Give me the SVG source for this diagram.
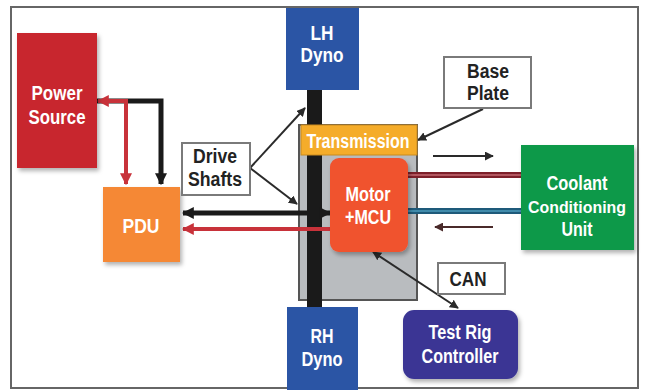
<svg xmlns="http://www.w3.org/2000/svg" width="645" height="390" viewBox="0 0 645 390">
<style>
.t{font-family:"Liberation Sans Narrow","Liberation Sans",Arial,sans-serif;font-weight:bold;font-size:20px;text-anchor:middle;fill:#ffffff}
.d{fill:#222222}
.lbl{fill:#ffffff;stroke:#7a7a7a;stroke-width:2}
.thin{fill:none;stroke:#2a2a2a;stroke-width:2}
.thickB{fill:none;stroke:#1a1a1a;stroke-width:5}
.thickR{fill:none;stroke:#c8323a;stroke-width:4}
</style>
<defs>
<filter id="sh" x="-10%" y="-10%" width="130%" height="130%">
<feDropShadow dx="2" dy="3" stdDeviation="2" flood-color="#000" flood-opacity="0.3"/>
</filter>
<marker id="aB" viewBox="0 0 10 10" refX="9" refY="5" markerWidth="12" markerHeight="12" markerUnits="userSpaceOnUse" orient="auto-start-reverse"><path d="M0,0 L10,5 L0,10 z" fill="#1a1a1a"/></marker>
<marker id="aR" viewBox="0 0 10 10" refX="9" refY="5" markerWidth="12" markerHeight="12" markerUnits="userSpaceOnUse" orient="auto-start-reverse"><path d="M0,0 L10,5 L0,10 z" fill="#c8323a"/></marker>
<marker id="aT" viewBox="0 0 10 10" refX="9" refY="5" markerWidth="9" markerHeight="9" markerUnits="userSpaceOnUse" orient="auto-start-reverse"><path d="M0,0 L10,5 L0,10 z" fill="#2a2a2a"/></marker>
<marker id="aBr" viewBox="0 0 10 10" refX="9" refY="5" markerWidth="9" markerHeight="9" markerUnits="userSpaceOnUse" orient="auto-start-reverse"><path d="M0,0 L10,5 L0,10 z" fill="#4a2a2a"/></marker>
</defs>
<rect x="11" y="7" width="627" height="381" fill="#ffffff" stroke="#666666" stroke-width="2"/>

<g id="base-plate">
<rect x="299" y="125" width="118" height="175" fill="#b9bcbf" stroke="#555555" stroke-width="2"/>
</g>

<g id="shaft">
<rect x="307" y="88" width="15" height="220" fill="#1a1a1a"/>
</g>

<g id="connectors">
<path class="thickB" d="M97,101 H161 V184" marker-end="url(#aB)"/>
<path class="thickR" d="M126,184 V101 H98" marker-start="url(#aR)" marker-end="url(#aR)"/>
<path class="thickB" d="M183,213 H330" marker-start="url(#aB)" marker-end="url(#aB)"/>
<path class="thickR" d="M330,229 H183" marker-end="url(#aR)"/>
<line x1="408" y1="175" x2="523" y2="175" stroke="#7d1f2a" stroke-width="6"/>
<line x1="408" y1="175" x2="523" y2="175" stroke="#c46a72" stroke-width="1.5"/>
<line x1="408" y1="211" x2="523" y2="211" stroke="#1e5a7a" stroke-width="6"/>
<line x1="408" y1="211" x2="523" y2="211" stroke="#4d9cbd" stroke-width="1.5"/>
<line class="thin" x1="433" y1="156" x2="493" y2="156" marker-end="url(#aT)"/>
<line x1="493" y1="227" x2="435" y2="227" stroke="#4a2a2a" stroke-width="2" marker-end="url(#aBr)"/>
<line class="thin" x1="250" y1="168" x2="305" y2="108" marker-end="url(#aT)"/>
<line class="thin" x1="250" y1="168" x2="297" y2="204" marker-end="url(#aT)"/>
<line class="thin" x1="483" y1="109" x2="418" y2="140" marker-end="url(#aT)"/>
<line class="thin" x1="373" y1="252" x2="458" y2="308" marker-start="url(#aT)" marker-end="url(#aT)"/>
</g>

<g id="power-source">
<rect x="17" y="33" width="80" height="135" fill="#c8262e" filter="url(#sh)"/>
<text class="t" x="57" y="100" textLength="51" lengthAdjust="spacingAndGlyphs">Power</text>
<text class="t" x="57" y="124" textLength="57" lengthAdjust="spacingAndGlyphs">Source</text>
</g>

<g id="pdu">
<rect x="103" y="187" width="77" height="75" fill="#f58834" filter="url(#sh)"/>
<text class="t" x="141" y="233" textLength="37" lengthAdjust="spacingAndGlyphs">PDU</text>
</g>

<g id="drive-shafts">
<rect class="lbl" x="182" y="143" width="68" height="52"/>
<text class="t d" x="215" y="163" textLength="44" lengthAdjust="spacingAndGlyphs">Drive</text>
<text class="t d" x="215" y="186" textLength="54" lengthAdjust="spacingAndGlyphs">Shafts</text>
</g>

<g id="lh-dyno">
<rect x="286" y="8" width="73" height="82" fill="#2b55a5"/>
<text class="t" x="322" y="40" textLength="23" lengthAdjust="spacingAndGlyphs">LH</text>
<text class="t" x="322" y="62" textLength="43" lengthAdjust="spacingAndGlyphs">Dyno</text>
</g>

<g id="rh-dyno">
<rect x="287" y="307" width="71" height="83" fill="#2b55a5"/>
<text class="t" x="322" y="343" textLength="23" lengthAdjust="spacingAndGlyphs">RH</text>
<text class="t" x="322" y="366" textLength="41" lengthAdjust="spacingAndGlyphs">Dyno</text>
</g>

<g id="transmission">
<rect x="301" y="125" width="116" height="30" fill="#f5ac2a" stroke="#c98a1e" stroke-width="1"/>
<text class="t" x="358" y="148" textLength="103" lengthAdjust="spacingAndGlyphs">Transmission</text>
</g>

<g id="motor-mcu">
<rect x="330" y="158" width="78" height="94" rx="9" fill="#f0522f" filter="url(#sh)"/>
<text class="t" x="368" y="201" textLength="45" lengthAdjust="spacingAndGlyphs">Motor</text>
<text class="t" x="368" y="224" textLength="46" lengthAdjust="spacingAndGlyphs">+MCU</text>
</g>

<g id="base-plate-label">
<rect class="lbl" x="444" y="57" width="87" height="51"/>
<text class="t d" x="488" y="78" textLength="42" lengthAdjust="spacingAndGlyphs">Base</text>
<text class="t d" x="488" y="100" textLength="42" lengthAdjust="spacingAndGlyphs">Plate</text>
</g>

<g id="coolant-unit">
<rect x="521" y="145" width="113" height="105" fill="#11994a" filter="url(#sh)"/>
<text class="t" x="577" y="190" textLength="61" lengthAdjust="spacingAndGlyphs">Coolant</text>
<text class="t" x="577" y="213" font-size="17" style="font-size:17px" textLength="98" lengthAdjust="spacingAndGlyphs">Conditioning</text>
<text class="t" x="577" y="236" textLength="31" lengthAdjust="spacingAndGlyphs">Unit</text>
</g>

<g id="can-label">
<rect class="lbl" x="438" y="263" width="67" height="31"/>
<text class="t d" x="468" y="286" textLength="37" lengthAdjust="spacingAndGlyphs">CAN</text>
</g>

<g id="test-rig-controller">
<rect x="403" y="310" width="115" height="69" rx="11" fill="#3b3694" filter="url(#sh)"/>
<text class="t" x="460" y="339" textLength="63" lengthAdjust="spacingAndGlyphs">Test Rig</text>
<text class="t" x="460" y="363" textLength="77" lengthAdjust="spacingAndGlyphs">Controller</text>
</g>
</svg>
